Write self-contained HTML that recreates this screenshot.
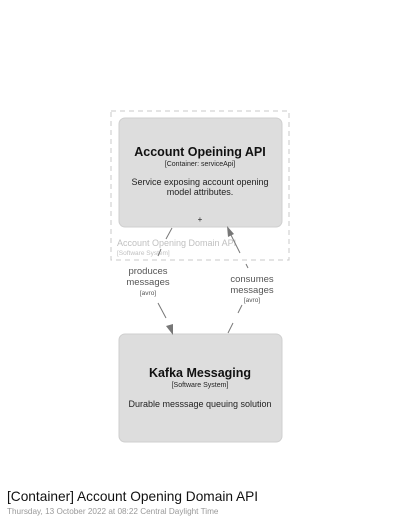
<!DOCTYPE html>
<html><head><meta charset="utf-8"><style>
html,body{margin:0;padding:0;background:#fff;width:400px;height:524px;overflow:hidden}
text{font-family:"Liberation Sans","DejaVu Sans",sans-serif}
</style></head><body>
<svg width="400" height="524" viewBox="0 0 400 524" xmlns="http://www.w3.org/2000/svg">
<rect x="111" y="111" width="178" height="149" fill="none" stroke="#c8c8c8" stroke-width="1" stroke-dasharray="5,4"/>
<text x="117" y="246" font-size="9" fill="#c0c0c0">Account Opening Domain API</text>
<text x="117" y="255" font-size="6.5" fill="#c0c0c0">[Software System]</text>
<rect x="119" y="118" width="163" height="109" rx="6" fill="#dddddd" stroke="#cfcfcf"/>
<text x="200" y="156" font-size="12.5" font-weight="bold" text-anchor="middle" fill="#111">Account Opeining API</text>
<text x="200" y="166" font-size="7" text-anchor="middle" fill="#222">[Container: serviceApi]</text>
<text x="200" y="185" font-size="9" text-anchor="middle" fill="#222">Service exposing account opening</text>
<text x="200" y="195" font-size="9" text-anchor="middle" fill="#222">model attributes.</text>
<text x="200" y="222" font-size="8" text-anchor="middle" fill="#222">+</text>
<rect x="119" y="334" width="163" height="108" rx="6" fill="#dddddd" stroke="#cfcfcf"/>
<text x="200" y="377" font-size="12.5" font-weight="bold" text-anchor="middle" fill="#111">Kafka Messaging</text>
<text x="200" y="387" font-size="7" text-anchor="middle" fill="#222">[Software System]</text>
<text x="200" y="407" font-size="9" text-anchor="middle" fill="#222">Durable messsage queuing solution</text>
<g stroke="#777" stroke-width="1" fill="none">
<line x1="172" y1="228" x2="166" y2="239"/>
<line x1="161" y1="249" x2="158" y2="256"/>
<line x1="158" y1="303" x2="166" y2="318"/>
<line x1="228" y1="333" x2="233" y2="323"/>
<line x1="238" y1="313" x2="242" y2="305"/>
<line x1="248" y1="268" x2="246" y2="264"/>
<line x1="240" y1="253" x2="230" y2="233"/>
</g>
<polygon points="173,335 166,326 173,324" fill="#777"/>
<polygon points="227,226 234,234 228,237" fill="#777"/>
<text x="148" y="274" font-size="9.5" text-anchor="middle" fill="#555">produces</text>
<text x="148" y="285" font-size="9.5" text-anchor="middle" fill="#555">messages</text>
<text x="148" y="295" font-size="6.5" text-anchor="middle" fill="#555">[avro]</text>
<text x="252" y="282" font-size="9.5" text-anchor="middle" fill="#555">consumes</text>
<text x="252" y="293" font-size="9.5" text-anchor="middle" fill="#555">messages</text>
<text x="252" y="302" font-size="6.5" text-anchor="middle" fill="#555">[avro]</text>
<text x="7" y="501" font-size="13.7" fill="#111">[Container] Account Opening Domain API</text>
<text x="7" y="514" font-size="8.2" fill="#999">Thursday, 13 October 2022 at 08:22 Central Daylight Time</text>
</svg>
</body></html>
